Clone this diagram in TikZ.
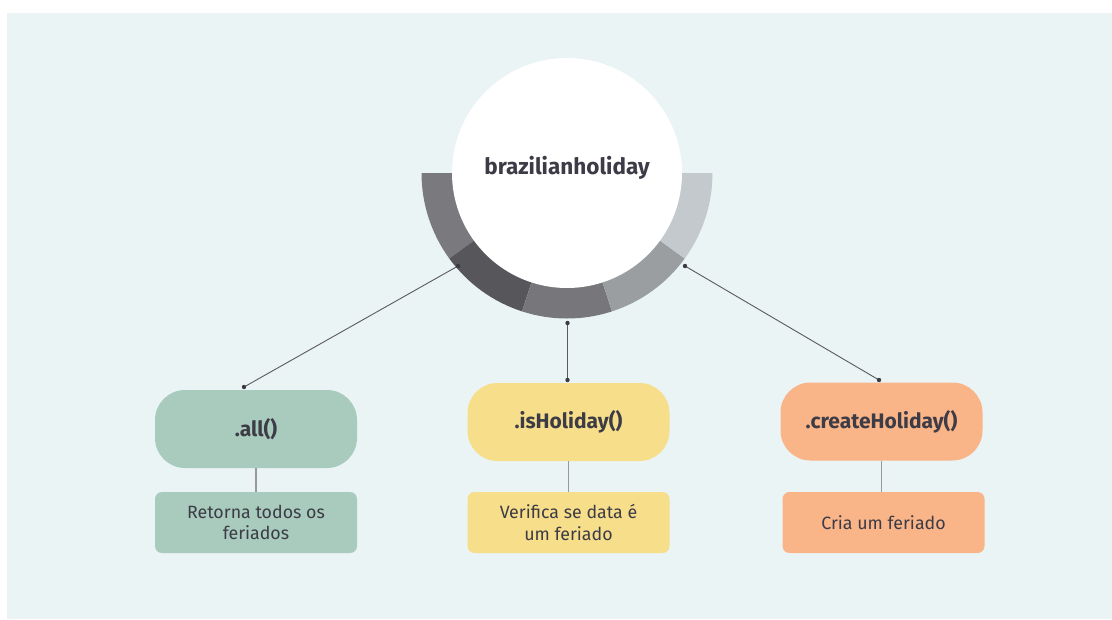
\documentclass[tikz,border=0pt]{standalone}
\usepackage{fontspec}
\usetikzlibrary{calc}
\setmainfont{Fira Sans}
\definecolor{bgc}{HTML}{EAF4F5}
\definecolor{txt}{HTML}{3C3B46}
\definecolor{gA}{HTML}{7A797E}
\definecolor{gB}{HTML}{57565B}
\definecolor{gC}{HTML}{77777B}
\definecolor{gD}{HTML}{9A9EA1}
\definecolor{gE}{HTML}{C3C9CC}
\definecolor{cgreen}{HTML}{A8CBBD}
\definecolor{cyellow}{HTML}{F7DE8A}
\definecolor{corange}{HTML}{F9B488}
\definecolor{lnc}{HTML}{5A5A5E}
\tikzset{
  method/.style={minimum width=202pt, minimum height=78pt, rounded corners=30pt, inner sep=0pt, text=txt, font=\fontsize{21}{24}\selectfont\bfseries},
  desc/.style={minimum width=202pt, minimum height=61pt, rounded corners=7pt, inner sep=0pt, text=txt, align=center, font=\fontsize{17.8}{21.5}\selectfont},
  conn/.style={draw=lnc, line width=0.9pt},
  stem/.style={draw=gray!80, line width=1.4pt},
  dotc/.style={fill=txt}
}
\begin{document}
\begin{tikzpicture}[x=1pt,y=-1pt]
\useasboundingbox (0,0) rectangle (1112,619);
\fill[bgc] (7,13) rectangle (1112,619);
% ring
\coordinate (c) at (567,173);
\foreach \a/\b/\col in {180/216/gA,216/252/gB,252/288/gC,288/324/gD,324/360/gE}{
  \fill[\col] ($(c)+(\a:145.5pt)$) arc[start angle=\a, end angle=\b, radius=145.5pt]
    -- ($(c)+(\b:114pt)$) arc[start angle=\b, end angle=\a, radius=114pt] -- cycle;
}
\node[circle, fill=white, minimum size=230pt, inner sep=0pt] (hub) at (c) {};
\node[text=txt, font=\fontsize{22.5}{26}\selectfont\bfseries] (hubT) at (567,168) {brazilianholiday};
% boxes
\node[method, fill=cgreen] (all) at (256,429) {.all()};
\node[method, fill=cyellow] (is) at (568.5,422) {.isHoliday()};
\node[method, fill=corange] (cr) at (881.5,421.5) {.createHoliday()};
\node[desc, fill=cgreen] (allD) at (256,522.5) {Retorna todos os\\feriados};
\node[desc, fill=cyellow] (isD) at (568.5,522.5) {Verifica se data é\\um feriado};
\node[desc, fill=corange] (crD) at (883.5,522.5) {Cria um feriado};
% stems
\draw[stem] (all.south) -- (allD.north);
\draw[stem] (is.south) -- (isD.north);
\draw[stem] (cr.south) -- (cr.south |- crD.north);
% connectors
\coordinate (d1) at (458,266);
\coordinate (d2) at (567.5,323);
\coordinate (d3) at (685,266);
\coordinate (e1) at (244,387);
\coordinate (e2) at (567.5,380);
\coordinate (e3) at (879,380);
\draw[conn] (d1) -- (e1);
\draw[conn] (d2) -- (e2);
\draw[conn] (d3) -- (e3);
\foreach \p in {d1,d2,d3,e1,e2,e3}{\fill[dotc] (\p) circle (2.2pt);}
\end{tikzpicture}
\end{document}
